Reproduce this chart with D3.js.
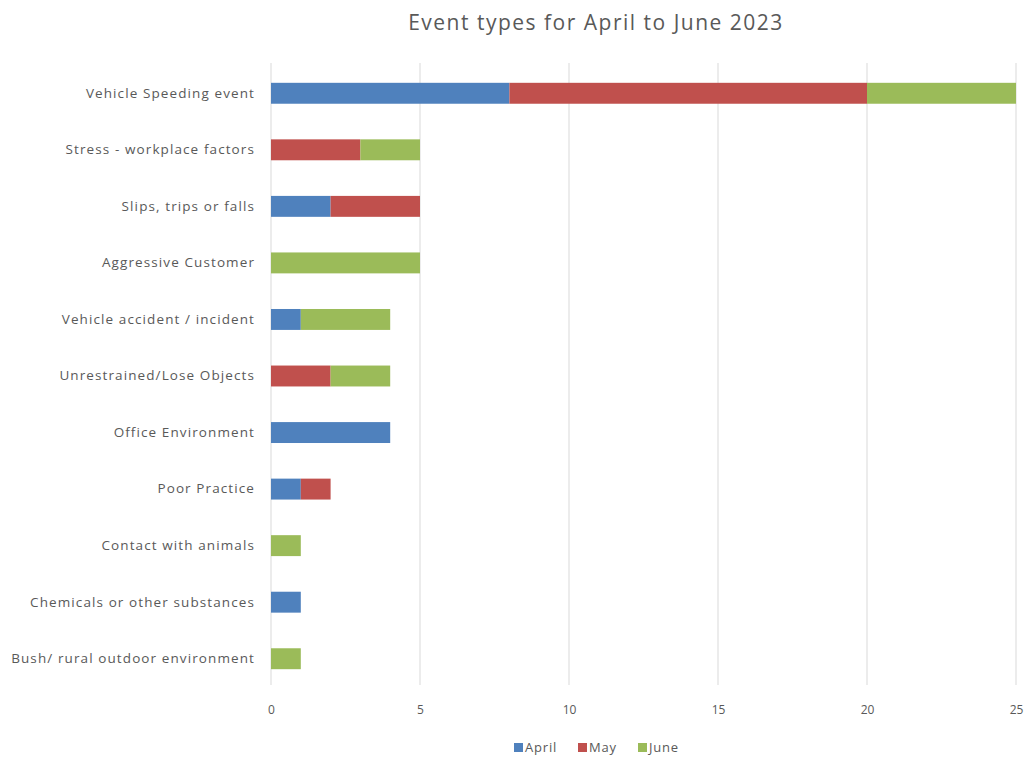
<!DOCTYPE html>
<html><head><meta charset="utf-8">
<script src="https://cdn.jsdelivr.net/npm/d3@7"></script>
<style>body{margin:0;background:#fff;} text{font-family:"Open Sans","Noto Sans",sans-serif;fill:#595959;}</style>
</head><body><svg id="c" width="1024" height="758"></svg>
<script>
const categories = ["Vehicle Speeding event","Stress - workplace factors","Slips, trips or falls","Aggressive Customer","Vehicle accident / incident","Unrestrained/Lose Objects","Office Environment","Poor Practice","Contact with animals","Chemicals or other substances","Bush/ rural outdoor environment"];
const series = ["April","May","June"];
const april = [8,0,2,0,1,0,4,1,0,1,0];
const may   = [12,3,3,0,0,2,0,1,0,0,0];
const june  = [5,2,0,5,3,2,0,0,1,0,1];
const xTicks = [0,5,10,15,20,25];
const colors = ["#4F81BD","#C0504D","#9BBB59"];

const svg = d3.select("#c");
const m = {left:271, right:1016, top:65, bottom:687};
const x = d3.scaleLinear().domain([0,25]).range([m.left,m.right]);
const y = d3.scaleBand().domain(categories).range([m.top,m.bottom]).paddingInner(0.63).paddingOuter(0.315);

svg.append("text").attr("x",596).attr("y",30).attr("text-anchor","middle")
  .style("font-size","21px").style("letter-spacing","1.5px").text("Event types for April to June 2023");

svg.append("g").selectAll("line").data(xTicks).join("line")
  .attr("x1",d=>x(d)).attr("x2",d=>x(d)).attr("y1",m.top-2).attr("y2",m.bottom-2)
  .attr("stroke","#d9d9d9").attr("stroke-width",1);

const rows = categories.map((c,i)=>({cat:c, April:april[i], May:may[i], June:june[i]}));
const stacked = d3.stack().keys(series)(rows);
svg.append("g").selectAll("g").data(stacked).join("g").attr("fill",(d,i)=>colors[i])
  .selectAll("rect").data(d=>d).join("rect")
  .attr("x",d=>x(d[0])).attr("width",d=>x(d[1])-x(d[0]))
  .attr("y",d=>y(d.data.cat)).attr("height",y.bandwidth());

const xa = svg.append("g").attr("transform",`translate(0,${m.bottom-2})`)
  .call(d3.axisBottom(x).tickValues(xTicks).tickSize(0).tickPadding(20));
xa.select(".domain").remove();
xa.selectAll("text").style("font-size","12px").style("fill","#595959").style("font-family","'Open Sans',sans-serif");

const ya = svg.append("g").attr("transform",`translate(${m.left},0)`)
  .call(d3.axisLeft(y).tickSize(0).tickPadding(16));
ya.select(".domain").remove();
ya.selectAll("text").style("font-size","13.5px").style("letter-spacing","1.1px").style("fill","#595959").style("font-family","'Open Sans',sans-serif");

const lg = svg.append("g").attr("transform","translate(514,752)");
const lx = [0,64,124];
series.forEach((s,i)=>{
  lg.append("rect").attr("x",lx[i]).attr("y",-9).attr("width",9).attr("height",9).attr("fill",colors[i]);
  lg.append("text").attr("x",lx[i]+11).attr("y",0).style("font-size","13px").style("letter-spacing","0.8px").text(s);
});
</script></body></html>
